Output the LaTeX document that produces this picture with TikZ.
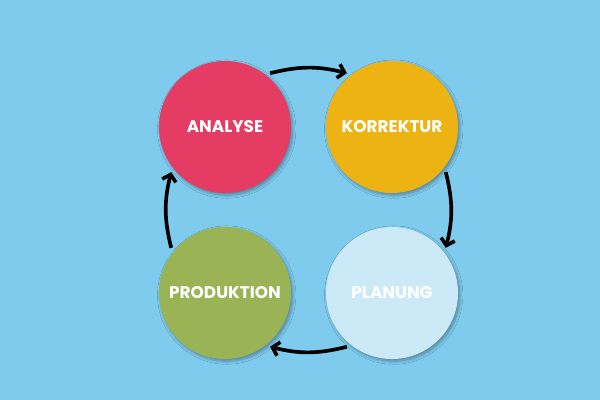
\documentclass[tikz,border=0pt]{standalone}
\usepackage{fontspec}
\setmainfont{Poppins}[UprightFont=* Bold]
\usetikzlibrary{arrows.meta, shadows.blur}
\definecolor{bgblue}{HTML}{7FCBEE}
\definecolor{cred}{HTML}{E43C62}
\definecolor{cyellow}{HTML}{EDB313}
\definecolor{cgreen}{HTML}{9AB355}
\definecolor{clight}{HTML}{CBE9F6}
\begin{document}
\begin{tikzpicture}[x=0.025cm, y=-0.025cm,
  phase/.style={circle, minimum size=3.3cm, inner sep=0pt, outer sep=3pt,
    text=white, font=\fontsize{12}{14}\selectfont,
    blur shadow={shadow xshift=1.2pt, shadow yshift=-1.5pt, shadow blur steps=6, shadow opacity=35}},
  flow/.style={line width=2.6pt, -{Straight Barb[length=4.5pt, width=10pt, line width=2.6pt]}, bend left=14}]
  % hintergrund 600 x 400 px
  \fill[bgblue] (0,0) rectangle (600,400);
  % die vier phasen
  \node[phase, fill=cred]    (analyse)    at (225,127) {ANALYSE};
  \node[phase, fill=cyellow] (korrektur)  at (392,127) {KORREKTUR};
  \node[phase, fill=clight]  (planung)    at (392,293) {PLANUNG};
  \node[phase, fill=cgreen]  (produktion) at (225,293) {PRODUKTION};
  % kreislauf im uhrzeigersinn
  \draw[flow] (analyse.50)    to (korrektur.130);
  \draw[flow] (korrektur.-40) to (planung.40);
  \draw[flow] (planung.-130)  to (produktion.-50);
  \draw[flow] (produktion.140) to (analyse.-140);
\end{tikzpicture}
\end{document}
